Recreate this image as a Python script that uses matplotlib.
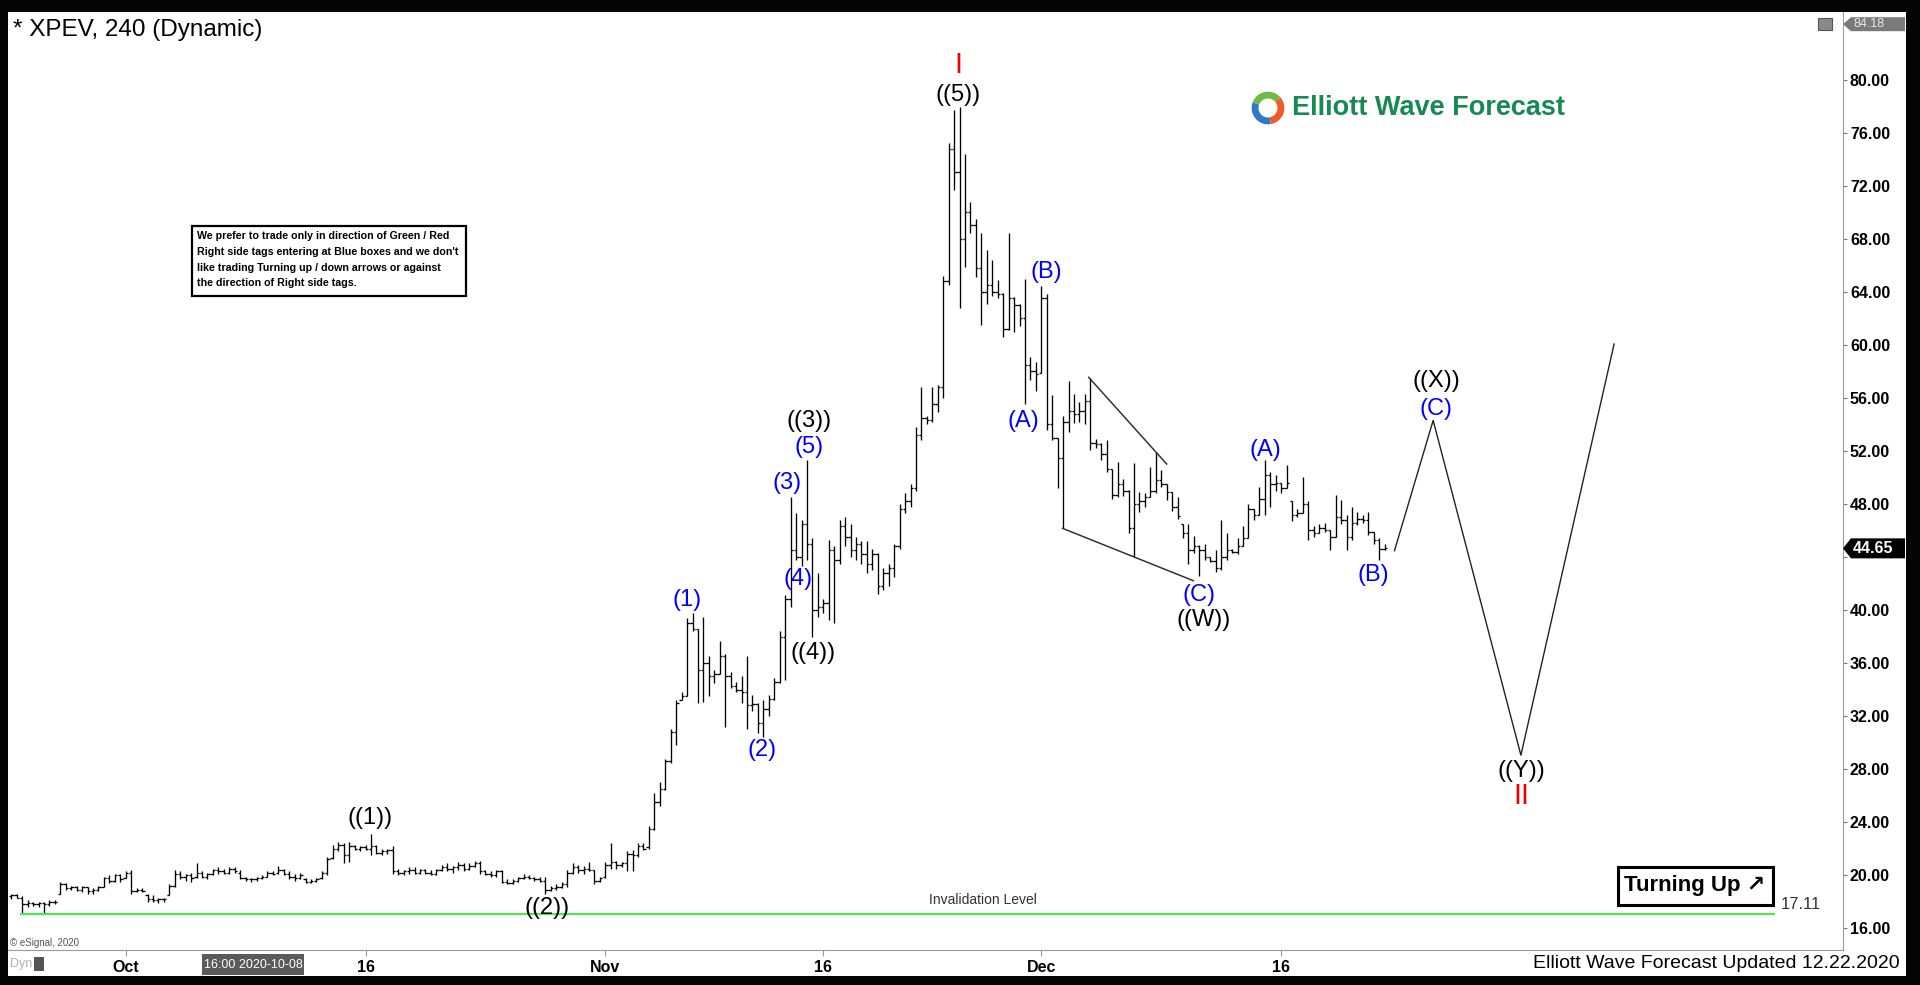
import numpy as np
import matplotlib.pyplot as plt
from matplotlib.patches import Rectangle, Polygon, Wedge
from matplotlib import font_manager

plt.rcParams['font.family'] = ['Liberation Sans', 'DejaVu Sans']
installed = {f.name for f in font_manager.fontManager.ttflist}
has_narrow = 'Liberation Sans Narrow' in installed

# ---------------- data (4h bars, bar 0 = first bar of Oct 1 2020) ----------------
first_bar = -21

bar_open = [
    18.4, 18.5, 18.3, 17.8, 17.9, 17.8, 17.9, 17.8,
    18.0, 18.6, 19.3, 19.0, 19.1, 18.9, 19.1, 18.8,
    18.9, 19.1, 19.8, 19.6, 20.0, 19.8, 20.2, 18.8,
    18.9, 18.5, 18.2, 18.1, 18.2, 18.5, 19.2, 20.1,
    19.9, 20.0, 19.9, 20.2, 19.9, 20.1, 20.4, 20.3,
    20.2, 20.5, 20.2, 19.8, 19.7, 19.7, 19.8, 19.9,
    20.2, 20.2, 20.4, 20.1, 19.9, 19.8, 19.7, 19.5,
    19.6, 19.8, 20.2, 21.3, 22.0, 22.3, 21.5, 22.2,
    22.0, 22.1, 22.0, 22.2, 21.7, 21.8, 21.9, 20.3,
    20.2, 20.3, 20.4, 20.2, 20.4, 20.2, 20.1, 20.4,
    20.6, 20.5, 20.6, 20.8, 20.5, 20.7, 20.9, 20.3,
    20.1, 20.0, 20.3, 19.5, 19.4, 19.6, 19.8, 19.9,
    19.8, 19.7, 19.6, 18.9, 19.0, 19.1, 19.3, 20.2,
    20.6, 20.4, 20.5, 20.4, 19.6, 19.9, 20.8, 21.0,
    20.8, 20.9, 21.6, 21.5, 22.2, 22.1, 23.5, 25.5,
    26.5, 28.6, 30.8, 33.2, 33.5, 39.0, 38.6, 35.5,
    36.0, 35.0, 35.2, 36.5, 35.0, 34.3, 34.0, 33.8,
    32.8, 32.9, 31.5, 32.5, 33.3, 34.6, 38.0, 40.8,
    44.5, 44.0, 46.5, 45.0, 40.0, 40.2, 40.5, 44.5,
    43.8, 46.3, 45.5, 44.5, 45.0, 44.2, 43.5, 44.2,
    41.8, 42.8, 43.2, 44.8, 47.6, 48.2, 49.2, 53.2,
    54.5, 54.3, 55.5, 56.8, 64.8, 74.8, 73.0, 68.0,
    70.0, 69.0, 65.8, 64.0, 64.5, 64.0, 63.8, 61.2,
    63.5, 63.0, 62.0, 58.5, 58.0, 57.9, 63.5, 54.0,
    53.0, 51.5, 54.2, 55.0, 54.8, 55.0, 55.8, 52.6,
    52.5, 51.8, 50.6, 48.7, 49.5, 49.0, 46.2, 48.0,
    48.2, 48.5, 49.0, 49.8, 49.5, 48.9, 47.8, 46.5,
    45.8, 44.5, 44.8, 44.5, 44.0, 43.7, 43.2, 44.0,
    44.5, 44.4, 44.8, 45.4, 47.6, 47.2, 48.4, 50.2,
    49.5, 49.6, 49.2, 48.2, 47.2, 47.3, 48.0, 46.0,
    45.8, 46.2, 46.0, 45.5, 47.0, 46.8, 45.5, 46.6,
    46.9, 46.8, 45.9, 45.3, 44.6,
]
bar_high = [
    18.6, 18.6, 18.4, 18.1, 18.0, 18.0, 18.0, 18.1,
    18.1, 19.5, 19.4, 19.2, 19.2, 19.2, 19.1, 19.0,
    19.2, 19.9, 20.0, 20.1, 20.1, 20.3, 20.4, 19.0,
    19.0, 18.6, 18.5, 18.3, 18.3, 19.3, 20.4, 20.3,
    20.1, 20.2, 20.9, 20.3, 20.2, 20.5, 20.6, 20.5,
    20.6, 20.6, 20.4, 19.9, 19.8, 19.9, 20.0, 20.3,
    20.3, 20.7, 20.5, 20.3, 20.1, 20.2, 19.8, 19.7,
    19.8, 20.3, 21.4, 22.3, 22.5, 22.4, 22.5, 22.3,
    22.2, 22.3, 23.1, 22.3, 22.0, 22.0, 22.2, 20.5,
    20.4, 20.6, 20.6, 20.5, 20.5, 20.4, 20.5, 20.8,
    20.9, 20.7, 21.0, 20.9, 20.9, 21.1, 21.1, 20.4,
    20.3, 20.4, 20.4, 19.7, 19.7, 19.9, 20.1, 20.0,
    19.9, 19.9, 19.9, 19.2, 19.3, 19.5, 20.4, 20.9,
    20.8, 20.7, 21.0, 20.4, 19.9, 21.0, 22.4, 21.1,
    21.0, 21.8, 21.9, 22.4, 22.4, 23.7, 26.2, 27.0,
    28.8, 31.0, 33.2, 33.8, 39.4, 39.75, 38.6, 39.5,
    36.5, 35.5, 37.7, 36.7, 35.3, 34.6, 35.0, 36.5,
    33.6, 33.0, 33.2, 33.6, 34.9, 38.4, 41.1, 48.5,
    47.3, 46.8, 51.3, 45.4, 42.8, 40.8, 45.3, 44.8,
    46.8, 47.0, 46.5, 45.5, 45.2, 45.2, 44.6, 44.3,
    43.2, 43.5, 45.0, 48.0, 48.8, 49.5, 53.8, 56.85,
    54.6, 56.85, 57.0, 65.2, 75.2, 77.7, 77.96, 74.4,
    70.8, 69.5, 68.4, 67.15, 66.4, 64.9, 63.9, 68.4,
    63.6, 63.1, 65.0, 59.1, 58.7, 64.4, 63.8, 56.2,
    53.0, 54.6, 57.3, 56.3, 55.7, 56.3, 57.5, 52.9,
    52.6, 52.8, 50.6, 51.2, 49.9, 49.05, 51.05, 48.9,
    48.8, 50.8, 51.9, 50.55, 49.5, 48.9, 48.5, 46.5,
    46.5, 45.6, 44.9, 45.0, 44.0, 44.5, 46.8, 45.8,
    44.6, 45.4, 46.3, 48.0, 47.6, 49.3, 51.3, 50.4,
    50.2, 49.6, 50.9, 48.2, 47.6, 50.05, 48.2, 46.3,
    46.5, 46.6, 46.0, 48.7, 48.3, 47.2, 47.8, 47.4,
    47.2, 47.4, 45.9, 45.4, 45.0,
]
bar_low = [
    18.2, 18.3, 17.1, 17.6, 17.7, 17.6, 17.05, 17.7,
    17.8, 18.6, 18.9, 18.9, 18.8, 18.7, 18.6, 18.6,
    18.8, 19.1, 19.4, 19.5, 19.5, 19.8, 18.6, 18.7,
    18.7, 18.0, 18.0, 17.9, 18.0, 18.5, 19.1, 19.7,
    19.6, 19.5, 19.8, 19.8, 19.7, 20.0, 20.1, 20.1,
    20.1, 20.2, 19.7, 19.6, 19.5, 19.6, 19.7, 19.9,
    20.0, 20.1, 20.0, 19.7, 19.6, 19.7, 19.4, 19.4,
    19.5, 19.7, 20.0, 21.2, 21.8, 20.9, 21.0, 21.9,
    21.8, 21.9, 21.5, 21.6, 21.5, 21.6, 20.1, 20.0,
    20.0, 20.1, 20.1, 20.1, 20.1, 20.0, 20.0, 20.3,
    20.3, 20.2, 20.4, 20.3, 20.4, 20.6, 20.1, 20.0,
    19.9, 19.9, 19.4, 19.3, 19.3, 19.5, 19.7, 19.7,
    19.6, 19.5, 18.6, 18.8, 18.9, 19.0, 19.1, 20.1,
    20.2, 20.1, 20.3, 19.3, 19.5, 19.8, 20.5, 20.5,
    20.6, 20.3, 20.3, 21.4, 21.9, 22.0, 23.4, 25.2,
    26.4, 28.5, 29.8, 33.2, 33.5, 38.4, 33.0, 33.1,
    33.5, 34.5, 35.2, 31.2, 34.1, 33.8, 33.0, 31.0,
    32.4, 30.7, 30.45, 32.0, 33.2, 34.5, 34.7, 40.25,
    43.8, 43.3, 43.8, 38.0, 39.5, 39.8, 39.25, 39.0,
    43.5, 44.8, 44.0, 43.8, 43.5, 42.8, 43.0, 41.2,
    41.5, 41.8, 42.5, 44.6, 47.3, 47.8, 49.0, 52.8,
    54.0, 54.2, 54.9, 56.0, 64.5, 71.7, 62.75, 65.9,
    68.4, 65.1, 61.5, 63.1, 63.7, 63.5, 60.6, 61.1,
    61.0, 61.4, 55.5, 57.35, 56.5, 57.9, 53.6, 52.8,
    49.2, 46.15, 53.4, 54.1, 54.2, 54.0, 52.1, 52.2,
    51.3, 50.4, 48.4, 48.5, 48.6, 45.8, 44.0, 47.4,
    47.8, 48.5, 48.8, 49.3, 48.3, 47.5, 46.9, 45.4,
    43.5, 44.3, 42.55, 43.8, 43.6, 42.9, 43.0, 43.8,
    44.3, 44.2, 44.8, 45.4, 46.8, 47.2, 47.2, 47.8,
    49.0, 48.8, 49.2, 46.7, 47.0, 47.3, 45.3, 45.5,
    45.8, 45.9, 44.5, 45.5, 46.5, 44.5, 45.3, 46.4,
    46.6, 45.65, 45.0, 43.8, 44.5,
]
bar_close = [
    18.5, 18.3, 17.8, 17.9, 17.8, 17.9, 17.8, 18.0,
    18.0, 19.3, 19.0, 19.1, 18.9, 19.1, 18.8, 18.9,
    19.1, 19.8, 19.6, 20.0, 19.7, 20.2, 18.8, 18.9,
    18.8, 18.2, 18.1, 18.2, 18.2, 19.2, 20.1, 19.9,
    20.0, 19.8, 20.2, 19.9, 20.1, 20.4, 20.3, 20.2,
    20.5, 20.3, 19.8, 19.7, 19.7, 19.8, 19.9, 20.2,
    20.1, 20.4, 20.1, 19.9, 19.8, 20.0, 19.5, 19.6,
    19.7, 20.2, 21.2, 22.0, 22.3, 21.5, 22.2, 22.0,
    22.1, 22.0, 22.2, 21.7, 21.8, 21.9, 20.3, 20.2,
    20.3, 20.4, 20.2, 20.4, 20.2, 20.1, 20.4, 20.6,
    20.5, 20.6, 20.8, 20.5, 20.7, 20.9, 20.3, 20.1,
    20.0, 20.3, 19.5, 19.4, 19.6, 19.8, 19.9, 19.8,
    19.7, 19.6, 18.9, 19.0, 19.1, 19.3, 20.2, 20.6,
    20.4, 20.5, 20.4, 19.6, 19.8, 20.8, 21.0, 20.8,
    20.9, 21.6, 21.5, 22.2, 22.0, 23.5, 25.5, 26.5,
    28.6, 30.8, 33.0, 33.5, 39.0, 38.6, 35.5, 36.0,
    35.0, 35.2, 36.5, 35.0, 34.3, 34.0, 33.8, 32.8,
    32.9, 31.5, 32.5, 33.3, 34.6, 38.0, 40.8, 44.5,
    44.0, 46.5, 45.0, 40.0, 40.2, 40.5, 44.5, 43.8,
    46.3, 45.5, 44.5, 45.0, 44.2, 43.5, 44.2, 41.8,
    42.8, 43.2, 44.8, 47.6, 48.2, 49.2, 53.2, 54.5,
    54.3, 55.5, 56.8, 64.8, 74.8, 73.0, 68.0, 70.0,
    69.0, 65.8, 64.0, 64.5, 64.0, 63.8, 61.2, 63.5,
    63.0, 62.0, 58.5, 58.0, 57.8, 63.5, 54.0, 53.0,
    51.5, 54.2, 55.0, 54.8, 55.0, 55.8, 52.6, 52.5,
    51.8, 50.6, 48.7, 49.5, 49.0, 46.2, 48.0, 48.2,
    48.5, 49.0, 49.8, 49.5, 48.9, 47.8, 47.1, 45.8,
    44.5, 44.8, 44.5, 44.0, 43.7, 43.2, 44.0, 44.5,
    44.4, 44.8, 45.4, 47.6, 47.2, 48.4, 50.2, 49.5,
    49.6, 49.2, 49.6, 47.2, 47.3, 48.0, 46.0, 45.8,
    46.2, 46.0, 45.5, 47.0, 46.8, 45.5, 46.6, 46.9,
    46.8, 45.9, 45.3, 44.6, 44.65,
]

tick_bars = [0, 44, 88, 128, 168, 212]
tick_names = ['Oct', '16', 'Nov', '16', 'Dec', '16']
price_ticks = list(range(16, 81, 4))
last_price = 44.65
top_price = 84.18
invalidation = 17.11
inval_from, inval_to = -19.4, 302.7

# projected path after the last bar
proj_bar = [232.8, 239.9, 256.0, 273.1]
proj_price = [44.47, 54.3, 29.05, 60.06]
# ending-diagonal lines
tri_up_bar, tri_up_price = [176.7, 191.0], [57.55, 51.01]
tri_lo_bar, tri_lo_price = [171.9, 195.9], [46.16, 42.21]

wave_text = ['((1))', '((2))', '(1)', '(2)', '(3)', '(4)', '(5)', '((3))', '((4))',
             'I', '((5))', '(A)', '(B)', '(C)', '((W))', '(A)', '(B)', '((X))', '(C)',
             '((Y))', 'II']
wave_bar = [44.9, 77.3, 103.0, 116.8, 121.4, 123.4, 125.4, 125.4, 126.1,
            152.8, 152.8, 164.7, 168.9, 197.0, 197.7, 209.1, 228.9, 240.5, 240.5,
            256.0, 256.0]
wave_price = [24.31, 17.53, 40.75, 29.44, 49.57, 42.33, 52.28, 54.26, 36.76,
              81.1, 78.84, 54.26, 65.49, 41.13, 39.24, 52.07, 42.64, 57.28, 55.17,
              27.87, 25.98]
wave_color = ['k', 'k', 'b', 'b', 'b', 'b', 'b', 'k', 'k',
              'r', 'k', 'b', 'b', 'b', 'k', 'b', 'b', 'k', 'b',
              'k', 'r']

# ---------------- figure ----------------
W, H = 1920, 985
fig = plt.figure(figsize=(W / 100, H / 100), dpi=100, facecolor='#050505')


def fx(px):
    return px / W


def fy(py):
    return 1 - py / H


# white chart panel inside the dark frame
fig.patches.append(Rectangle((fx(8), fy(976)), fx(1906) - fx(8), fy(12) - fy(976),
                             transform=fig.transFigure, facecolor='white',
                             edgecolor='none', zorder=-5))

ax = fig.add_axes([fx(8), fy(950), fx(1843) - fx(8), fy(12) - fy(950)])
ax.set_facecolor('white')
ax.set_xlim(-21.6, 315.1)
ax.set_ylim(14.36, 85.1)

# OHLC bars
x = np.arange(first_bar, first_bar + len(bar_close))
ax.vlines(x, bar_low, bar_high, color='black', lw=0.95)
ax.hlines(bar_open, x - 0.45, x, color='black', lw=0.95)
ax.hlines(bar_close, x, x + 0.45, color='black', lw=0.95)

# invalidation level
ax.hlines(invalidation, inval_from, inval_to, color='#44ee44', lw=1.5)
ax.text(157.2, invalidation + 1.0, 'Invalidation Level', fontsize=10, color='#333333',
        ha='center', va='center')
ax.text(303.6, invalidation + 0.65, f'{invalidation:.2f}', fontsize=12, color='#333333',
        ha='left', va='center')

# diagonal and projection
ax.plot(tri_up_bar, tri_up_price, color='#333333', lw=1.1)
ax.plot(tri_lo_bar, tri_lo_price, color='#333333', lw=1.1)
ax.plot(proj_bar, proj_price, color='#222222', lw=1.0)

# wave labels
cmap = {'k': 'black', 'b': '#0000ff', 'r': '#ee0000'}
for t, b, p, c in zip(wave_text, wave_bar, wave_price, wave_color):
    fs = 21 if c == 'r' else 17
    ax.text(b, p, t, color=cmap[c], fontsize=fs, ha='center', va='center')

# axes styling (the 44.00 label sits under the last-price tag)
ax.yaxis.tick_right()
ax.set_yticks(price_ticks)
ax.set_yticklabels(['' if abs(v - last_price) < 1.5 else f'{v:.2f}' for v in price_ticks],
                   fontweight='bold', fontsize=11.5)
ax.tick_params(axis='y', direction='out', length=3, width=0.8, color='#777777', pad=2)
ax.set_xticks(tick_bars)
ax.set_xticklabels(tick_names, fontweight='bold', fontsize=11.5)
ax.tick_params(axis='x', direction='out', length=4, width=0.8, color='#999999', pad=3)
for s in ['left', 'top']:
    ax.spines[s].set_visible(False)
for s in ['right', 'bottom']:
    ax.spines[s].set_color('#999999')


# price tags on the right scale
def price_tag(price, text, fc, tc, h, fs, bold):
    y = ax.transData.transform((0, price))[1] / H
    hh = h / 2 / H
    pts = [(fx(1843), y), (fx(1851), y + hh), (fx(1905), y + hh),
           (fx(1905), y - hh), (fx(1851), y - hh)]
    fig.patches.append(Polygon(pts, closed=True, transform=fig.transFigure,
                               facecolor=fc, edgecolor='none', zorder=5))
    fig.text(fx(1853), y, text, color=tc, fontsize=fs, ha='left', va='center',
             fontweight='bold' if bold else 'normal', zorder=6)


price_tag(last_price, f'{last_price:.2f}', 'black', 'white', 20, 11.5, True)
price_tag(top_price, f'{top_price:.2f}', '#7a7a7a', '#e8e8e8', 14, 9, False)

# title
fig.text(fx(13), fy(30), '* XPEV, 240 (Dynamic)', fontsize=17.5, ha='left', va='center')

# small window icon top-right
fig.patches.append(Rectangle((fx(1818), fy(30)), fx(14), 12 / H, transform=fig.transFigure,
                             facecolor='#8a8a8a', edgecolor='#555555', lw=0.8, zorder=3))

# note box
note = ("We prefer to trade only in direction of Green / Red\n"
        "Right side tags entering at Blue boxes and we don't\n"
        "like trading Turning up / down arrows or against\n"
        "the direction of Right side tags.")
fig.patches.append(Rectangle((fx(192), fy(296)), fx(466) - fx(192), fy(226) - fy(296),
                             transform=fig.transFigure, fill=False, edgecolor='black',
                             lw=1.6, zorder=3))
fig.text(fx(197), fy(231), note, fontsize=7.7, fontweight='bold', ha='left', va='top',
         linespacing=1.72)

# logo
fig.text(fx(1292), fy(108), 'Elliott Wave Forecast', fontsize=19.5, fontweight='bold',
         color='#178a52', ha='left', va='center')
lax = fig.add_axes([fx(1250), fy(126), fx(36), 36 / H])
lax.set_xlim(-1.1, 1.1)
lax.set_ylim(-1.1, 1.1)
lax.set_aspect('equal')
lax.axis('off')
for t1, t2, col in [(40, 160, '#6dbb45'), (160, 280, '#2b7cc4'), (280, 400, '#f05a28')]:
    lax.add_patch(Wedge((0, 0), 1.0, t1, t2, width=0.42, facecolor=col, edgecolor='none'))

# Turning Up box
fig.patches.append(Rectangle((fx(1618), fy(905)), fx(1773) - fx(1618), fy(867) - fy(905),
                             transform=fig.transFigure, fill=False, edgecolor='black',
                             lw=2.2, zorder=3))
fig.text(fx(1695), fy(886), 'Turning Up \u2197', fontsize=16, fontweight='bold',
         ha='center', va='center', family=['Liberation Sans', 'DejaVu Sans'])

# bottom strip texts
fig.text(fx(10), fy(943), '\u00a9 eSignal, 2020', fontsize=7, color='#555555',
         ha='left', va='center')
fig.text(fx(10), fy(964), 'Dyn', fontsize=9, color='#b0b0b0', ha='left', va='center')
fig.patches.append(Rectangle((fx(34), fy(971)), fx(10), 14 / H, transform=fig.transFigure,
                             facecolor='#555555', edgecolor='none', zorder=3))
fig.patches.append(Rectangle((fx(202), fy(975)), fx(102), 21 / H, transform=fig.transFigure,
                             facecolor='#5a5a5a', edgecolor='none', zorder=3))
fig.text(fx(253), fy(964.5), '16:00 2020-10-08', fontsize=9, color='white',
         ha='center', va='center', zorder=4)

footer = 'Elliott Wave Forecast Updated 12.22.2020'
if has_narrow:
    fig.text(fx(1900), fy(964), footer, fontsize=17, ha='right', va='center',
             family='Liberation Sans Narrow')
else:
    fig.text(fx(1900), fy(964), footer, fontsize=14, ha='right', va='center')

fig.savefig('out.png', dpi=100, facecolor=fig.get_facecolor())
